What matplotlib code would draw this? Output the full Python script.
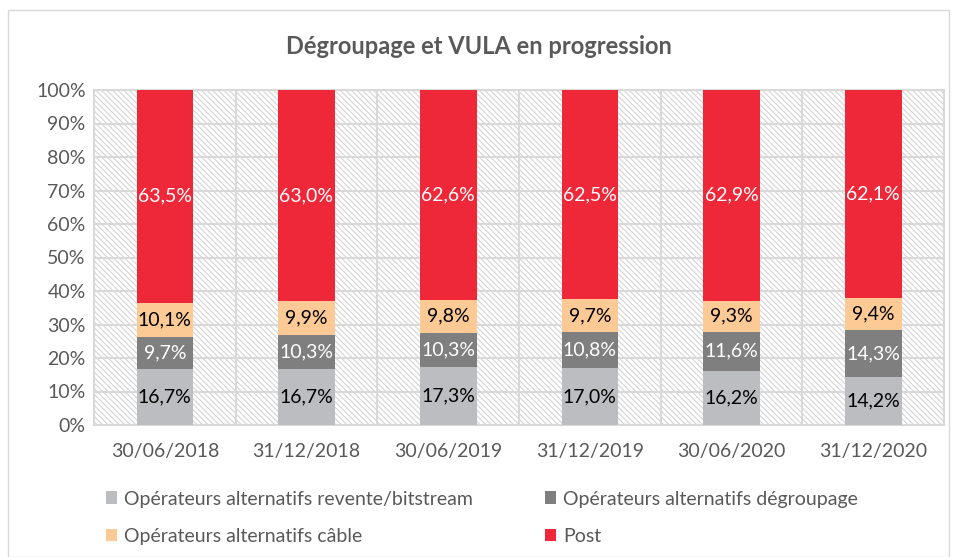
import numpy as np
import matplotlib
matplotlib.use('Agg')
from matplotlib import pyplot as plt
from matplotlib.patches import Rectangle
from matplotlib.ticker import FixedLocator

plt.rcParams['font.family'] = ['Lato', 'DejaVu Sans']
plt.rcParams['hatch.color'] = '#d4d4d4'
plt.rcParams['hatch.linewidth'] = 0.8

dates = ['30/06/2018', '31/12/2018', '30/06/2019', '31/12/2019', '30/06/2020', '31/12/2020']
revente = [16.7, 16.7, 17.3, 17.0, 16.2, 14.2]
degroupage = [9.7, 10.3, 10.3, 10.8, 11.6, 14.3]
cable = [10.1, 9.9, 9.8, 9.7, 9.3, 9.4]
post = [63.5, 63.0, 62.6, 62.5, 62.9, 62.1]

series = [
    ('Opérateurs alternatifs revente/bitstream', revente, '#bcbdc0', 'black'),
    ('Opérateurs alternatifs dégroupage', degroupage, '#7f7f7f', 'white'),
    ('Opérateurs alternatifs câble', cable, '#fdca96', 'black'),
    ('Post', post, '#ee2839', 'white'),
]

grey = '#595959'
fig = plt.figure(figsize=(9.57, 5.57), dpi=100)
ax = fig.add_axes([94 / 957, 1 - 425 / 557, 850 / 957, 335 / 557])

# hatched plot background
ax.add_patch(Rectangle((0, 0), 1, 1, transform=ax.transAxes, facecolor='white',
                       edgecolor='#d4d4d4', hatch='\\' * 6, lw=0, zorder=0))

x = np.arange(len(dates))
bottom = np.zeros(len(dates))
handles = []
for name, vals, color, tcolor in series:
    vals = np.array(vals)
    h = ax.bar(x, vals, 0.4, bottom=bottom, color=color, label=name, zorder=3)
    handles.append(h)
    for xi, b, v in zip(x, bottom, vals):
        ax.text(xi, b + v / 2, ('%.1f%%' % v).replace('.', ','), ha='center', va='center',
                color=tcolor, fontsize=14, zorder=4)
    bottom += vals

ax.set_xlim(-0.5, len(dates) - 0.5)
ax.set_ylim(0, 100)
ax.set_yticks(np.arange(0, 101, 10))
ax.set_yticklabels(['%d%%' % v for v in range(0, 101, 10)])
ax.set_xticks(x)
ax.set_xticklabels(dates)
ax.xaxis.set_minor_locator(FixedLocator(np.arange(-0.5, len(dates), 1)))
ax.tick_params(length=0, which='both', colors=grey, labelsize=14)
ax.tick_params(axis='x', pad=13)
ax.tick_params(axis='y', pad=6)
ax.grid(axis='y', color='#d9d9d9', lw=1.5, zorder=1)
ax.grid(axis='x', which='minor', color='#d9d9d9', lw=1.5, zorder=1)
for s in ax.spines.values():
    s.set_color('#d9d9d9')
    s.set_linewidth(1.5)

fig.text(0.5, 1 - 47 / 557, 'Dégroupage et VULA en progression', ha='center', va='center',
         fontsize=17, fontweight='bold', color=grey)

# legend filled row by row, like the original
order = [0, 2, 1, 3]
fig.legend([handles[i] for i in order], [series[i][0] for i in order],
           loc='upper left', bbox_to_anchor=(88 / 957, 1 - 473 / 557), ncol=2,
           frameon=False, fontsize=14, labelcolor=grey, handlelength=0.6, handleheight=0.6,
           handletextpad=0.35, columnspacing=3.7, labelspacing=1.05)

# chart border
fig.add_artist(Rectangle((8 / 957, 0), 1 - 16 / 957, 1 - 10 / 557, transform=fig.transFigure,
                         fill=False, edgecolor='#d9d9d9', lw=1))

fig.savefig('out.png', dpi=100)
